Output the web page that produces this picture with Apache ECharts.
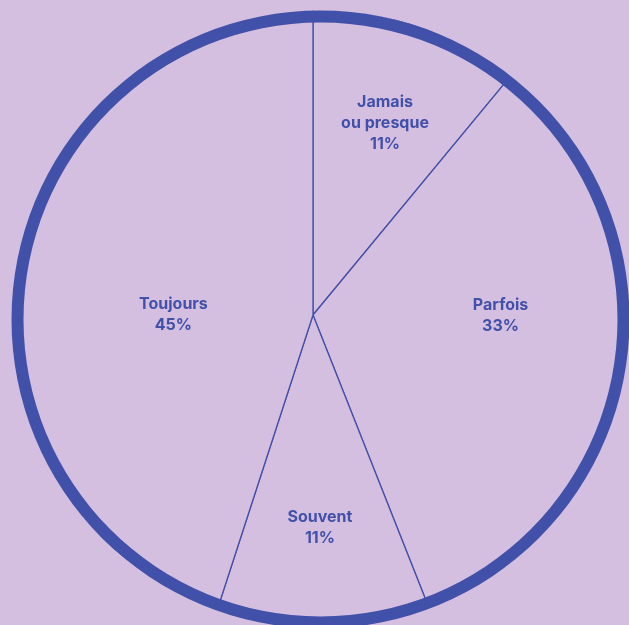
<!DOCTYPE html>
<html>
<head>
<meta charset="utf-8">
<script src="https://cdn.jsdelivr.net/npm/echarts@6/dist/echarts.min.js"></script>
<style>
  html, body { margin: 0; padding: 0; background: #d5bfe0; }
  #chart { width: 629px; height: 625px; }
</style>
</head>
<body>
<div id="chart"></div>
<script>
// Answers, clockwise from the top
const categories = ['Jamais\nou presque', 'Parfois', 'Souvent', 'Toujours'];
const shares = [11, 33, 11, 45];
// Label nudges so each caption sits well inside its slice
const labelOffsets = [[19, -45], [33, -24], [2, 56], [15, 24]];

const BG = '#d5bfe0';
const BLUE = '#4150a8';

const chart = echarts.init(document.getElementById('chart'), null, { renderer: 'canvas' });

const slices = categories.map((name, i) => ({
  name,
  value: shares[i],
  label: { offset: labelOffsets[i] }
}));

chart.setOption({
  backgroundColor: BG,
  animation: false,
  series: [
    {
      type: 'pie',
      z: 2,
      center: [313, 315],
      radius: 307,
      startAngle: 90,
      clockwise: true,
      avoidLabelOverlap: false,
      silent: true,
      itemStyle: { color: BG, borderColor: BLUE, borderWidth: 1.3 },
      label: {
        show: true,
        position: 'inside',
        formatter: p => p.name + '\n' + p.value + '%',
        color: BLUE,
        fontFamily: 'Inter',
        fontWeight: 'bold',
        fontSize: 16,
        lineHeight: 21,
        align: 'center'
      },
      labelLine: { show: false },
      data: slices
    },
    {
      // background band hiding anything beyond the rim
      type: 'pie',
      z: 4,
      silent: true,
      center: [320.5, 319.5],
      radius: [309, 700],
      label: { show: false },
      labelLine: { show: false },
      itemStyle: { color: BG, borderWidth: 0 },
      data: [{ value: 1 }]
    },
    {
      // thick rim
      type: 'pie',
      z: 5,
      silent: true,
      center: [320.5, 319.5],
      radius: [297, 309],
      label: { show: false },
      labelLine: { show: false },
      itemStyle: { color: BLUE, borderWidth: 0 },
      data: [{ value: 1 }]
    }
  ]
});
</script>
</body>
</html>
